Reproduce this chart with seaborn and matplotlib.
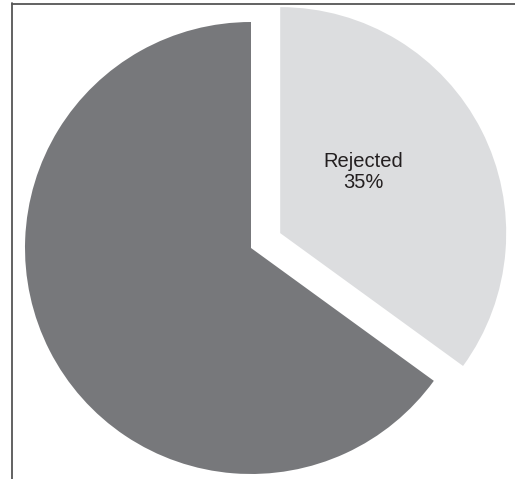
import matplotlib
matplotlib.use("Agg")
import matplotlib.pyplot as plt
from matplotlib.lines import Line2D
import seaborn as sns

labels = ["Rejected", "Accepted"]
values = [35, 65]
colors = ["#dcdddf", "#77787b"]
explode = [0.145, 0.0]

sns.set_theme(style="white")
plt.rcParams['font.family'] = ['Liberation Sans', 'DejaVu Sans']

W, H = 515, 479
fig = plt.figure(figsize=(W / 100, H / 100), dpi=100)
fig.patch.set_facecolor("white")

cx, cy, R = 251, 248, 226
ax = fig.add_axes([0, 0, 1, 1])
wedges, _ = ax.pie(values, colors=colors, explode=explode, startangle=90,
                   counterclock=False, radius=1.0,
                   wedgeprops=dict(linewidth=0, antialiased=True))
ax.set_xlim(-cx / R, (W - cx) / R)
ax.set_ylim((cy - H) / R, cy / R)
ax.set_aspect('auto')
ax.axis('off')

# label for Rejected slice
ax.text((363 - cx) / R, (cy - 172) / R, f"{labels[0]}\n{values[0]}%",
        ha='center', va='center', fontsize=14.5, color="#231f20",
        linespacing=1.15)

# frame lines
fig.add_artist(Line2D([11.5 / W, 11.5 / W], [0, 1 - 3 / H], transform=fig.transFigure,
                      color="#555555", linewidth=1.3))
fig.add_artist(Line2D([11.5 / W, 1], [1 - 3.5 / H, 1 - 3.5 / H], transform=fig.transFigure,
                      color="#555555", linewidth=1.3))

fig.savefig("out.png", dpi=100)
